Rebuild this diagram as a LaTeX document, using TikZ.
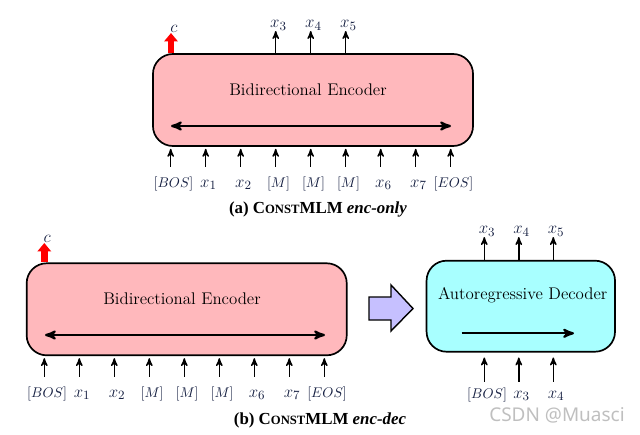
\documentclass[tikz,border=0pt]{standalone}
\usepackage{amsmath,amssymb}
\usepackage{fontspec}
\newfontfamily\capfont{Liberation Serif}
\newfontfamily\markfont{Noto Sans}
\usetikzlibrary{arrows,arrows.meta,positioning}

\definecolor{encpink}{RGB}{255,184,188}
\definecolor{deccyan}{RGB}{168,255,255}
\definecolor{hoppurple}{RGB}{198,192,255}
\definecolor{toknavy}{RGB}{22,32,66}

\tikzset{
  block/.style={draw, line width=1.2pt, rounded corners=0.5cm, inner sep=0pt},
  tok/.style={text=toknavy, inner sep=0pt, text height=3.3ex, text depth=.6ex, anchor=base, xshift=2pt},
  outtok/.style={text=toknavy, inner sep=0.5pt, anchor=south, xshift=2pt},
  feed/.style={->, >=stealth', line width=1pt},
  flow/.style={line width=1.6pt, >=stealth'},
  cls/.style={-{Triangle[width=9.5pt,length=6pt]}, draw=red, line width=4.6pt},
  subcap/.style={font=\capfont\bfseries\large},
}
\newcommand{\constmlm}{C{\fontsize{9}{10}\selectfont ONST}MLM}
\newcommand{\xv}[1]{\text{\fontsize{13}{15}\selectfont$x_{#1}$}}
\newcommand{\cv}{\text{\fontsize{13}{15}\selectfont$c$}}

\begin{document}
\begin{tikzpicture}[x=0.025cm, y=-0.025cm]
  \useasboundingbox (0,0) rectangle (640,435);

  % (a) encoder only
  \node[block, fill=encpink, minimum width=8cm, minimum height=2.3cm] (encA) at (313,100) {};
  \node (encAname) at (308,90) {\large Bidirectional Encoder};
  \draw[flow, <->] (171,126) -- (451,126);

  \foreach \t [count=\i from 0] in {{[BOS]},\xv1,\xv2,{[M]},{[M]},{[M]},\xv6,\xv7,{[EOS]}} {
    \node[tok] (inA\i) at (170.7+35*\i,187) {$\t$};
    \draw[feed, shorten >=1.4pt] ([xshift=-2pt]inA\i.north) -- ([xshift=-2pt]inA\i.north |- encA.south);
  }
  \foreach \t [count=\i from 0] in {\xv3,\xv4,\xv5} {
    \coordinate (tipA\i) at (275.7+35*\i,31);
    \draw[feed] (tipA\i |- encA.north) -- (tipA\i);
    \node[outtok] (outA\i) at (tipA\i) {$\t$};
  }
  \coordinate (clsA) at (171,33);
  \draw[cls] (clsA |- encA.north) -- (clsA);
  \node[outtok] (cA) at (clsA) {$\cv$};

  \node[subcap] (capA) at (318,209) {(a) \constmlm\ \textit{enc-only}};

  % (b) encoder + decoder
  \node[block, fill=encpink, minimum width=8cm, minimum height=2.3cm] (encB) at (186.7,309.3) {};
  \node (encBname) at (182,299) {\large Bidirectional Encoder};
  \draw[flow, <->] (45,335) -- (325,335);

  \foreach \t [count=\i from 0] in {{[BOS]},\xv1,\xv2,{[M]},{[M]},{[M]},\xv6,\xv7,{[EOS]}} {
    \node[tok] (inB\i) at (44.3+35*\i,397) {$\t$};
    \draw[feed, shorten >=1.4pt] ([xshift=-2pt]inB\i.north) -- ([xshift=-2pt]inB\i.north |- encB.south);
  }
  \coordinate (clsB) at (44.3,243);
  \draw[cls] (clsB |- encB.north) -- (clsB);
  \node[outtok] (cB) at (clsB) {$\cv$};

  % hand-over arrow
  \draw[line width=1pt, fill=hoppurple] (369,297) -- (391,297) -- (391,285) -- (413,308.5)
        -- (391,331) -- (391,320) -- (369,320) -- cycle;

  \node[block, fill=deccyan, minimum width=4.71cm, minimum height=2.275cm] (dec) at (520.8,306.2) {};
  \node (decname) at (522.7,295) {\large Autoregressive Decoder};
  \draw[flow, ->] (461.7,333.3) -- (574,333.3);

  \foreach \t [count=\i from 0] in {{[BOS]},\xv3,\xv4} {
    \node[tok, text height=2.6ex] (inD\i) at (484.3+34.5*\i,398) {$\t$};
    \draw[feed, shorten >=3.5pt] ([xshift=-2pt]inD\i.north) -- ([xshift=-2pt]inD\i.north |- dec.south);
  }
  \foreach \t [count=\i from 0] in {\xv3,\xv4,\xv5} {
    \coordinate (tipD\i) at (484.3+34.5*\i,237);
    \draw[feed] (tipD\i |- dec.north) -- (tipD\i);
    \node[outtok] (outD\i) at (tipD\i) {$\t$};
  }

  \node[subcap] (capB) at (320,420) {(b) \constmlm\ \textit{enc-dec}};

  \node[font=\markfont\fontsize{13.5}{14}\selectfont, text=black!25] (mark) at (557,415) {CSDN @Muasci};
\end{tikzpicture}
\end{document}
